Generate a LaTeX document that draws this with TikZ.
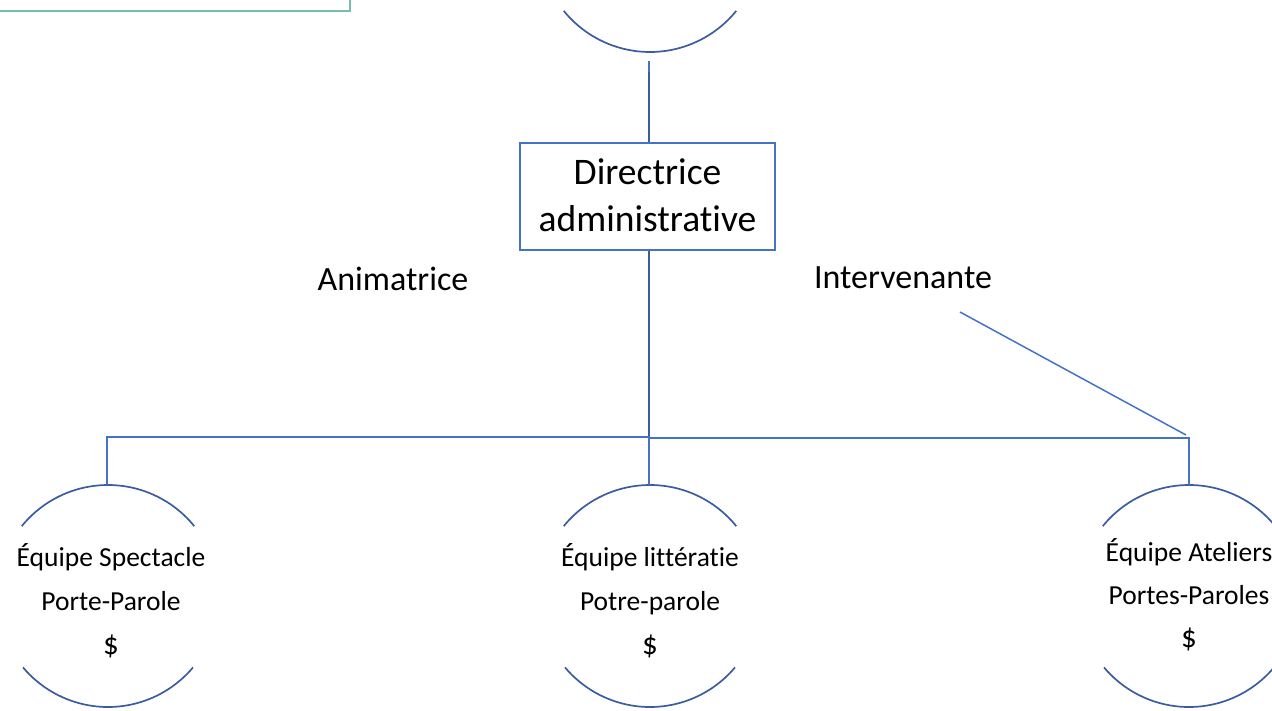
\documentclass[tikz,border=0pt]{standalone}
\usepackage{fontspec}
\setmainfont[Ligatures=NoCommon]{Carlito}
\definecolor{lineblue}{HTML}{4472C4}
\definecolor{arcblue}{HTML}{3A5DA0}
\definecolor{teal}{HTML}{72BFB0}
\begin{document}
\begin{tikzpicture}[x=1pt,y=-1pt,
  conn/.style={draw=lineblue,line width=1.5pt},
  thickconn/.style={draw=arcblue,line width=2.6pt},
  arcline/.style={draw=arcblue,line width=1.7pt},
  boxstyle/.style={draw=lineblue,line width=1.2pt,minimum width=255pt,minimum height=107pt,inner sep=0pt},
  lbl/.style={font=\fontsize{34}{40}\selectfont,anchor=center},
  team/.style={circle,minimum size=222pt,inner sep=0pt},
  teamtxt/.style={align=center,inner sep=0pt}
]
\useasboundingbox (0,0) rectangle (1272,710);
\begin{scope}
\clip (0,0) rectangle (1272,710);
% top-left teal box (cropped)
\draw[teal,line width=1.6pt] (-10,-60) rectangle (350,11);
% top circle (cropped)
\node[team] (top) at (650,-59) {};
\draw[arcline] ([shift={(-39:111pt)}]top.center) arc[start angle=-39,end angle=-141,radius=111pt];
% director box
\node[boxstyle] (dir) at (647.5,196.5) {};
\node[font=\fontsize{37.5}{47}\selectfont,align=center,inner sep=0pt] (dirtxt) at (647.5,195) {Directrice\\administrative};
% labels
\node[lbl] (anim) at (393,279) {Animatrice};
\node[lbl] (interv) at (903,278) {Intervenante};
% teams
\node[team] (t1) at (108,596) {};
\node[team] (t2) at (650,596) {};
\node[team] (t3) at (1189,596) {};
\node[teamtxt,font=\fontsize{27.5}{44}\selectfont] (t1txt) at (111,601) {Équipe Spectacle\\Porte-Parole\\{\fontsize{31}{31}\selectfont\$}};
\node[teamtxt,font=\fontsize{27.5}{44}\selectfont] (t2txt) at (650,601) {Équipe littératie\\Potre-parole\\{\fontsize{31}{31}\selectfont\$}};
\node[teamtxt,font=\fontsize{27.5}{43}\selectfont] (t3txt) at (1189,595) {Équipe Ateliers\\Portes-Paroles\\{\fontsize{31}{31}\selectfont\$}};
\foreach \n in {t1,t2,t3}{
  \draw[arcline] ([shift={(39:111pt)}]\n.center) arc[start angle=39,end angle=141,radius=111pt];
  \draw[arcline] ([shift={(-40:111pt)}]\n.center) arc[start angle=-40,end angle=-140,radius=111pt];
}
% connectors
\coordinate (j) at (649,437);
\coordinate (jl) at (107,437);
\coordinate (jr) at (1189,438);
\coordinate (d1) at (960,312);
\coordinate (d2) at (1186,435);
\draw[conn] (649,61) -- (649,72);
\draw[thickconn] (649,72) -- (dir.north -| 649,0);
\draw[thickconn] (dir.south -| 649,0) -- (j);
\draw[conn] (j) -- (jl) -- (t1.north -| jl);
\draw[conn] (649,438) -- (jr) -- (t3.north -| jr);
\draw[conn] (j) -- (t2.north -| j);
\draw[conn] (d1) -- (d2);
\end{scope}
\end{tikzpicture}
\end{document}
